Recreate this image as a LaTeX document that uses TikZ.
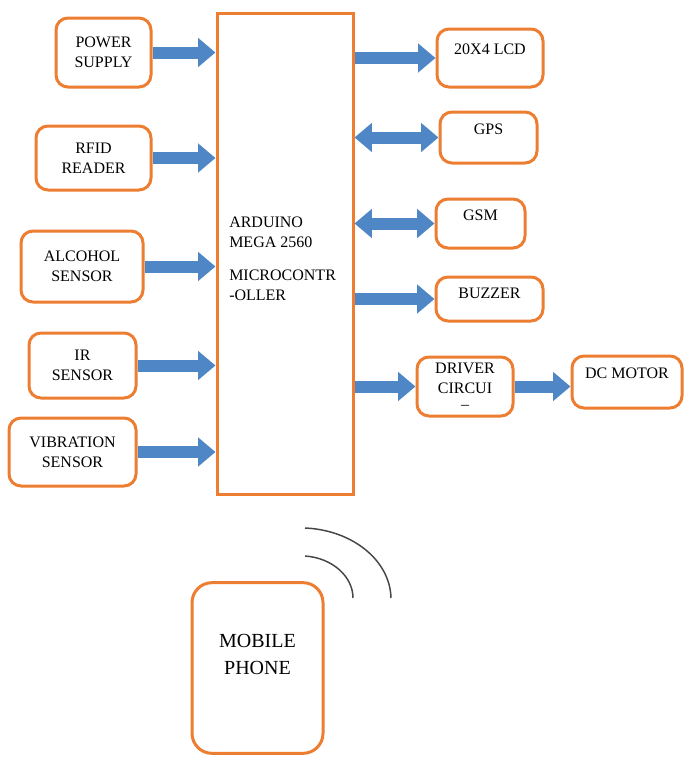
\documentclass[tikz,border=0pt]{standalone}
\usepackage{fontspec}
\setmainfont{Liberation Serif}
\usetikzlibrary{
    arrows.meta,
    positioning
}
\definecolor{boxorange}{RGB}{237,125,49}
\definecolor{arrowblue}{RGB}{79,135,198}
\definecolor{wavegray}{RGB}{70,70,70}

\tikzset{
    block/.style={draw=boxorange, line width=2.25pt, rounded corners=9pt,
        align=center, inner sep=2pt, font=\fontsize{12}{15}\selectfont},
    topblock/.style={block, text depth=13pt},
    fat/.style={draw=arrowblue, line width=9pt,
        -{Triangle[length=13pt,width=21pt]}},
    fatboth/.style={draw=arrowblue, line width=9pt,
        {Triangle[length=13pt,width=21pt]}-{Triangle[length=13pt,width=21pt]}},
    wave/.style={draw=wavegray, line width=1.1pt}
}

\begin{document}
\begin{tikzpicture}[x=0.75pt, y=-0.75pt]
                            \useasboundingbox (0,0) rectangle (684,757);
                            % controller
                            \node[block, rounded corners=0pt, minimum width=102pt, minimum height=360.75pt] (mcu) at (285,253.5) {};
                            \node[anchor=west, align=left, inner sep=0pt, font=\fontsize{12}{15}\selectfont] (mcutext) at (229,259)
                                {ARDUINO\\MEGA 2560\\[9.75pt]MICROCONTR\\-OLLER};
                            % inputs
                            \node[block, minimum width=71.25pt, minimum height=51.75pt] (power) at (103.5,52.5) {POWER\\SUPPLY};
                            \node[block, minimum width=86.25pt, minimum height=48pt] (rfid) at (93.5,158) {RFID\\READER};
                            \node[block, minimum width=91.5pt, minimum height=53.25pt] (alcohol) at (82,266.5) {ALCOHOL\\SENSOR};
                            \node[block, minimum width=80.25pt, minimum height=48.75pt] (ir) at (82.5,365.5) {IR\\SENSOR};
                            \node[block, minimum width=95.25pt, minimum height=51pt] (vibration) at (72.5,452) {VIBRATION\\SENSOR};
                            % outputs
                            \node[topblock, minimum width=79.5pt, minimum height=43.5pt] (lcd) at (490,58) {20X4 LCD};
                            \node[topblock, minimum width=72.75pt, minimum height=38.25pt] (gps) at (488.5,137.5) {GPS};
                            \node[topblock, minimum width=66.75pt, minimum height=36.75pt] (gsm) at (480.5,223.5) {GSM};
                            \node[topblock, text depth=9pt, minimum width=80.25pt, minimum height=33pt] (buzzer) at (489.5,299) {BUZZER};
                            \node[block, minimum width=72pt, minimum height=44.25pt] (driver) at (465,386.5) {DRIVER\\CIRCUI\\[-3pt]--};
                            \node[topblock, minimum width=82.5pt, minimum height=39pt] (motor) at (627,382) {DC MOTOR};
                            % phone
                            \node[block, rounded corners=15pt, text depth=20pt, font=\fontsize{15}{20}\selectfont,
                                minimum width=98.25pt, minimum height=128pt] (phone) at (257.5,668) {MOBILE\\PHONE};
                            \draw
                            (power) edge[fat] (power -| mcu.west)
                            (rfid) edge[fat] (rfid -| mcu.west)
                            (alcohol) edge[fat] (alcohol -| mcu.west)
                            (ir) edge[fat] (ir -| mcu.west)
                            (vibration) edge[fat] (vibration -| mcu.west)
                            (lcd -| mcu.east) edge[fat] (lcd)
                            (gps -| mcu.east) edge[fatboth] (gps)
                            (gsm -| mcu.east) edge[fatboth] (gsm)
                            (buzzer -| mcu.east) edge[fat] (buzzer)
                            (driver -| mcu.east) edge[fat] (driver)
                            (driver.east) edge[fat] (driver.east -| motor.west);
                            % signal waves
                            \draw[wave] (305,528) .. controls (352,530) and (390,560) .. (391,598);
                            \draw[wave] (305,556) .. controls (333,558) and (353,577) .. (353,598);
                        \end{tikzpicture}
\end{document}
